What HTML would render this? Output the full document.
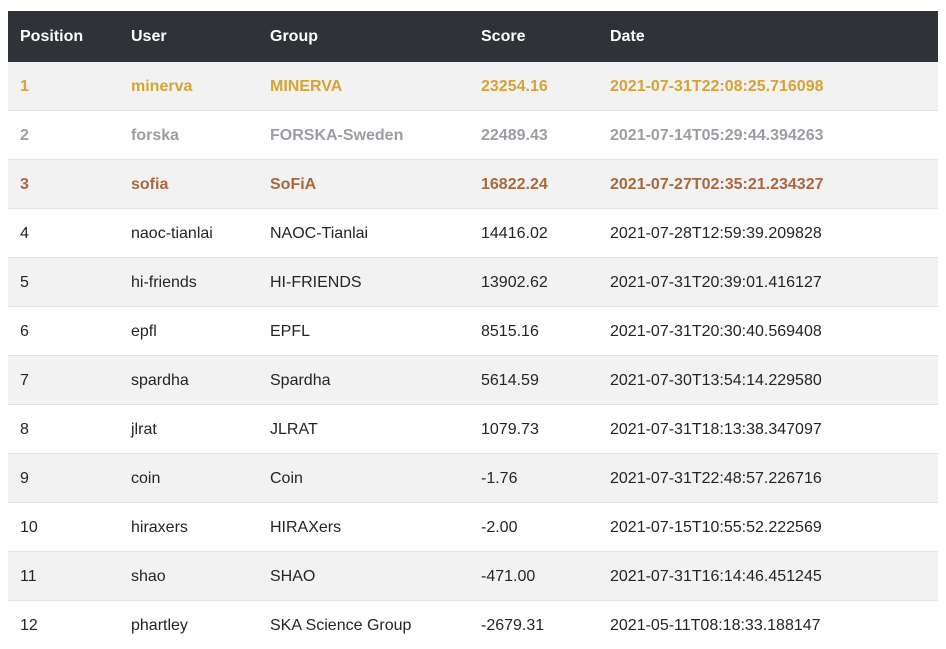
<!DOCTYPE html>
<html><head><meta charset="utf-8"><style>
body{margin:0;background:#fff;width:946px;height:647px;overflow:hidden;font-family:"Liberation Sans",Arial,sans-serif;}
table{position:absolute;left:8px;top:11px;width:930px;border-collapse:collapse;font-size:16px;color:#212529;}
th{background:#2f3337;color:#fff;font-weight:bold;text-align:left;height:50px;padding:3px 0 0 12px;box-sizing:border-box;border-bottom:1px solid #2f3337;}
td{height:49px;padding:3px 0 0 12px;box-sizing:border-box;border-top:1px solid #dee2e6;}
tbody tr:nth-child(odd){background:#f2f2f2;}
tr.gold td{color:#d4a436;font-weight:bold;}
tr.silver td{color:#9c9ca3;font-weight:bold;}
tr.bronze td{color:#a9683d;font-weight:bold;}
</style></head><body>
<table>
<colgroup><col style="width:111px"><col style="width:139px"><col style="width:211px"><col style="width:129px"><col></colgroup>
<thead><tr>
<th>Position</th><th>User</th><th>Group</th><th>Score</th><th>Date</th></tr></thead>
<tbody>
<tr class="gold"><td>1</td><td>minerva</td><td>MINERVA</td><td>23254.16</td><td>2021-07-31T22:08:25.716098</td></tr>
<tr class="silver"><td>2</td><td>forska</td><td>FORSKA-Sweden</td><td>22489.43</td><td>2021-07-14T05:29:44.394263</td></tr>
<tr class="bronze"><td>3</td><td>sofia</td><td>SoFiA</td><td>16822.24</td><td>2021-07-27T02:35:21.234327</td></tr>
<tr><td>4</td><td>naoc-tianlai</td><td>NAOC-Tianlai</td><td>14416.02</td><td>2021-07-28T12:59:39.209828</td></tr>
<tr><td>5</td><td>hi-friends</td><td>HI-FRIENDS</td><td>13902.62</td><td>2021-07-31T20:39:01.416127</td></tr>
<tr><td>6</td><td>epfl</td><td>EPFL</td><td>8515.16</td><td>2021-07-31T20:30:40.569408</td></tr>
<tr><td>7</td><td>spardha</td><td>Spardha</td><td>5614.59</td><td>2021-07-30T13:54:14.229580</td></tr>
<tr><td>8</td><td>jlrat</td><td>JLRAT</td><td>1079.73</td><td>2021-07-31T18:13:38.347097</td></tr>
<tr><td>9</td><td>coin</td><td>Coin</td><td>-1.76</td><td>2021-07-31T22:48:57.226716</td></tr>
<tr><td>10</td><td>hiraxers</td><td>HIRAXers</td><td>-2.00</td><td>2021-07-15T10:55:52.222569</td></tr>
<tr><td>11</td><td>shao</td><td>SHAO</td><td>-471.00</td><td>2021-07-31T16:14:46.451245</td></tr>
<tr><td>12</td><td>phartley</td><td>SKA Science Group</td><td>-2679.31</td><td>2021-05-11T08:18:33.188147</td></tr>
</tbody></table>
</body></html>
